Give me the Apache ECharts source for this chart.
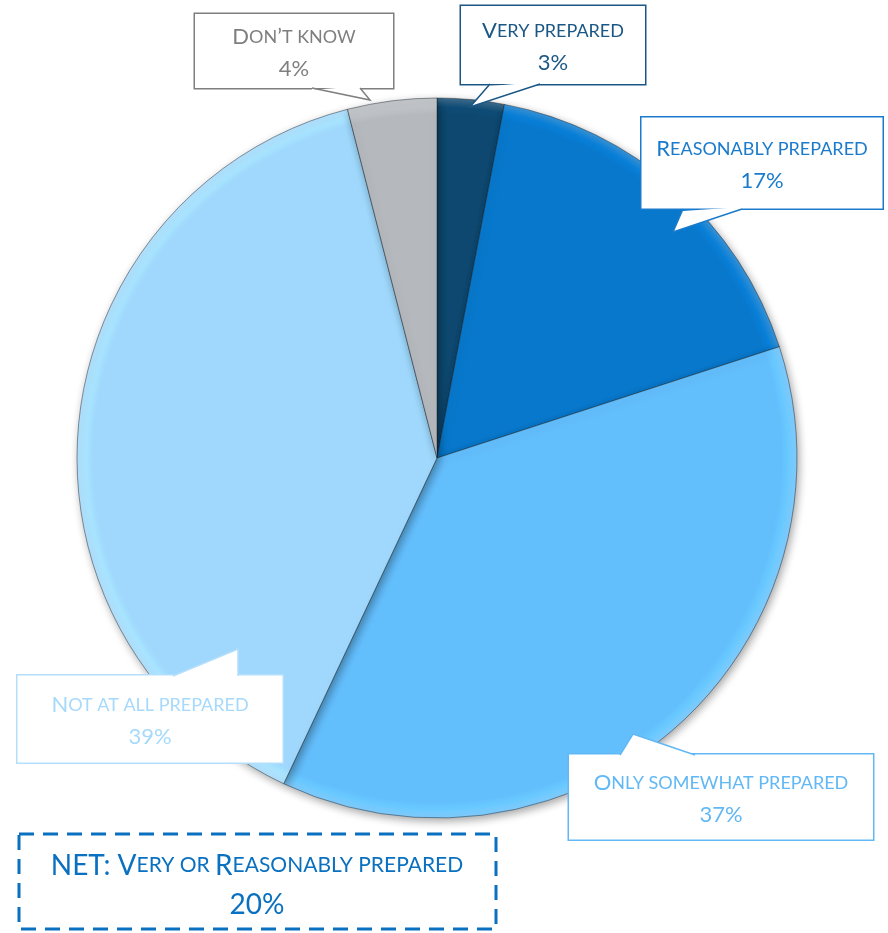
<!DOCTYPE html>
<html>
<head>
<meta charset="utf-8">
<title>Preparedness</title>
<script src="https://cdn.jsdelivr.net/npm/echarts@6/dist/echarts.min.js"></script>
<style>
  html, body { margin: 0; padding: 0; background: #fff; }
  #chart { width: 888px; height: 933px; }
</style>
</head>
<body>
<div id="chart"></div>
<script>
// data
var categories = ['Very prepared', 'Reasonably prepared', 'Only somewhat prepared', 'Not at all prepared', 'Don\u2019t know']
var values = [3, 17, 37, 39, 4]
var sliceColors = ['#0e4870', '#0878cc', '#63befc', '#9fd8fc', '#b5b8bc']
var textColors = ['#1b5785', '#1a7bcc', '#62b8f4', '#a6d9fb', '#7f7f7f']
var netLabel = 'NET: Very or Reasonably prepared'

var CX = 437
var CY = 458
var R = 360

// callout boxes [cx, cy, w, h] and tails [base1, base2, tip]
var boxes = [
  [553, 45, 184, 78],
  [762, 163, 241, 91],
  [721, 797, 304, 85],
  [150, 719, 265, 87],
  [294, 51, 198, 74]
]
var tails = [
  [[490, 84], [540, 84], [470, 107]],
  [[683, 209], [742, 209], [673, 232]],
  [[620, 755], [695, 755], [633, 734]],
  [[173, 676], [238, 676], [238, 649]],
  [[312, 88], [360, 88], [370, 100]]
]

var font = 'Lato, "Open Sans", sans-serif'

// small caps: capitals stay big, lower case letters become smaller capitals
function smallCaps (str) {
  var out = ''
  var cur = null
  var buf = ''
  for (var i = 0; i < str.length; i++) {
    var ch = str[i]
    var kind = (ch !== ch.toUpperCase()) ? 's' : 'c'
    if (ch === ' ' && cur) kind = cur
    if (kind !== cur && buf) { out += '{' + cur + '|' + buf + '}'; buf = '' }
    cur = kind
    buf += kind === 's' ? ch.toUpperCase() : ch
  }
  if (buf) out += '{' + cur + '|' + buf + '}'
  return out
}

function bevel (c) {
  return new echarts.graphic.RadialGradient(CX, CY, R, [
    { offset: 0, color: c },
    { offset: 0.955, color: c },
    { offset: 0.975, color: echarts.color.lift(c, -0.06) },
    { offset: 1, color: echarts.color.lift(c, 0.2) }
  ], true)
}

var pieData = categories.map(function (name, i) {
  var b = boxes[i]
  var col = textColors[i]
  var pv = (b[3] - 64) / 2
  return {
    name: name,
    value: values[i],
    itemStyle: { color: bevel(sliceColors[i]) },
    label: {
      color: col,
      borderColor: i === 3 ? '#b3defc' : col,
      width: b[2],
      padding: [pv + 2, 0, pv - 2, 0],
      rich: {
        c: { fontFamily: font, fontSize: 22, color: col, lineHeight: 32 },
        s: { fontFamily: font, fontSize: 18, color: col, lineHeight: 32 }
      }
    }
  }
})

var graphics = []
tails.forEach(function (t, i) {
  var stroke = i === 3 ? '#b3defc' : textColors[i]
  graphics.push({
    type: 'polygon', z: 100,
    shape: { points: [[t[0][0], t[0][1] + 2], t[0], t[2], t[1], [t[1][0], t[1][1] + (boxes[i][1] > t[1][1] ? 2 : -2)]] },
    style: { fill: '#fff' }
  })
  graphics.push({
    type: 'polyline', z: 101,
    shape: { points: [t[0], t[2], t[1]] },
    style: { stroke: stroke, lineWidth: 1.5, fill: null }
  })
})

var net = values[0] + values[1]
graphics.push({
  type: 'rect', z: 100,
  shape: { x: 19, y: 834, width: 477, height: 95 },
  style: { fill: '#fff', stroke: '#0a70c0', lineWidth: 3, lineDash: [15, 9] }
})
graphics.push({
  type: 'text', z: 101,
  x: 257, y: 885,
  style: {
    text: smallCaps(netLabel) + '\n' + smallCaps(net + '%'),
    fill: '#0a70c0',
    align: 'center',
    verticalAlign: 'middle',
    rich: {
      c: { fontFamily: font, fontSize: 28, fill: '#0a70c0', lineHeight: 39 },
      s: { fontFamily: font, fontSize: 21, fill: '#0a70c0', lineHeight: 39 }
    }
  }
})

var chart = echarts.init(document.getElementById('chart'))
chart.setOption({
  backgroundColor: '#fff',
  animation: false,
  graphic: graphics,
  series: [{
    type: 'pie',
    center: [CX, CY],
    radius: R,
    startAngle: 90,
    clockwise: true,
    data: pieData,
    itemStyle: {
      borderColor: 'rgba(20,30,40,0.45)',
      borderWidth: 1,
      shadowColor: 'rgba(0,0,0,0.35)',
      shadowBlur: 8,
      shadowOffsetX: 2,
      shadowOffsetY: 3
    },
    emphasis: { disabled: true },
    label: {
      show: true,
      formatter: function (p) {
        return smallCaps(p.name) + '\n' + smallCaps(p.percent + '%')
      },
      fontFamily: font,
      fontSize: 22,
      lineHeight: 32,
      align: 'center',
      backgroundColor: '#fff',
      borderWidth: 1.5
    },
    labelLine: { show: false },
    labelLayout: function (params) {
      var b = boxes[params.dataIndex]
      return { x: b[0], y: b[1], align: 'center', verticalAlign: 'middle' }
    }
  }]
})
</script>
</body>
</html>
